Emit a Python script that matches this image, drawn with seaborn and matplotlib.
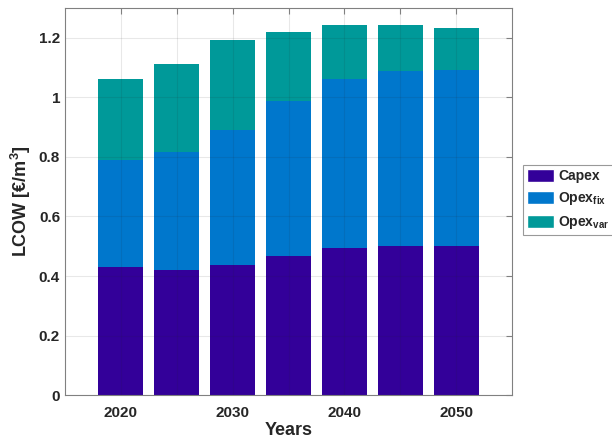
import matplotlib
matplotlib.use("Agg")
import matplotlib.pyplot as plt
import seaborn as sns
import pandas as pd
from matplotlib.patches import Patch

years = [2020, 2025, 2030, 2035, 2040, 2045, 2050]
capex = [0.431, 0.421, 0.438, 0.467, 0.493, 0.502, 0.502]
opex_fix = [0.358, 0.396, 0.453, 0.522, 0.570, 0.587, 0.590]
opex_var = [0.272, 0.294, 0.300, 0.230, 0.181, 0.154, 0.140]
xtick_labels = ["2020", "", "2030", "", "2040", "", "2050"]
ytick_vals = [0, 0.2, 0.4, 0.6, 0.8, 1.0, 1.2]
ytick_labels = ["0", "0.2", "0.4", "0.6", "0.8", "1", "1.2"]

sns.set_style("white")
plt.rcParams["font.family"] = ["Liberation Sans", "DejaVu Sans"]
plt.rcParams["mathtext.fontset"] = "custom"
plt.rcParams["mathtext.rm"] = "Liberation Sans:bold"
plt.rcParams["mathtext.bf"] = "Liberation Sans:bold"
plt.rcParams["mathtext.it"] = "Liberation Sans:bold"

c_capex = "#330099"
c_fix = "#0077CC"
c_var = "#009999"

df = pd.DataFrame({"year": years, "capex": capex, "fix": opex_fix, "var": opex_var})
df["top_fix"] = df["capex"] + df["fix"]
df["total"] = df["top_fix"] + df["var"]

fig = plt.figure(figsize=(6.12, 4.43), dpi=100)
ax = fig.add_axes([0.106, 0.108, 0.731, 0.874])

for col, colr in [("total", c_var), ("top_fix", c_fix), ("capex", c_capex)]:
    sns.barplot(data=df, x="year", y=col, native_scale=True, width=0.8,
                color=colr, saturation=1, linewidth=0, ax=ax, zorder=2)

ax.set_xlim(2015, 2055)
ax.set_ylim(0, 1.3)
ax.set_xticks(years)
ax.set_xticklabels(xtick_labels, fontsize=11, fontweight="bold", color="#262626")
ax.set_yticks(ytick_vals)
ax.set_yticklabels(ytick_labels, fontsize=11, fontweight="bold", color="#262626")
ax.set_xlabel("Years", fontsize=13, fontweight="bold", color="#262626", labelpad=1)
ax.set_ylabel(r"LCOW [€/m$^3$]", fontsize=13, fontweight="bold", color="#262626")
ax.grid(True, color="#262626", alpha=0.1, linewidth=0.8, zorder=3)
ax.set_axisbelow(False)
ax.tick_params(direction="in", top=True, right=True, length=4, color="#808080", width=0.8)
ax.tick_params(axis="x", pad=8)
for s in ax.spines.values():
    s.set_color("#808080")
    s.set_linewidth(0.8)
    s.set_zorder(4)

handles = [Patch(facecolor=c_capex), Patch(facecolor=c_fix), Patch(facecolor=c_var)]
labels = ["Capex", r"Opex$_{\mathbf{fix}}$", r"Opex$_{\mathbf{var}}$"]
leg = fig.legend(handles, labels, loc="upper left", bbox_to_anchor=(0.855, 0.628),
                 prop={"weight": "bold", "size": 10}, frameon=True, fancybox=False,
                 edgecolor="#808080", handlelength=1.9, handleheight=1.1,
                 borderpad=0.3, labelspacing=0.5, handletextpad=0.3, borderaxespad=0)
leg.get_frame().set_linewidth(0.8)

fig.savefig("out.png", dpi=100)
